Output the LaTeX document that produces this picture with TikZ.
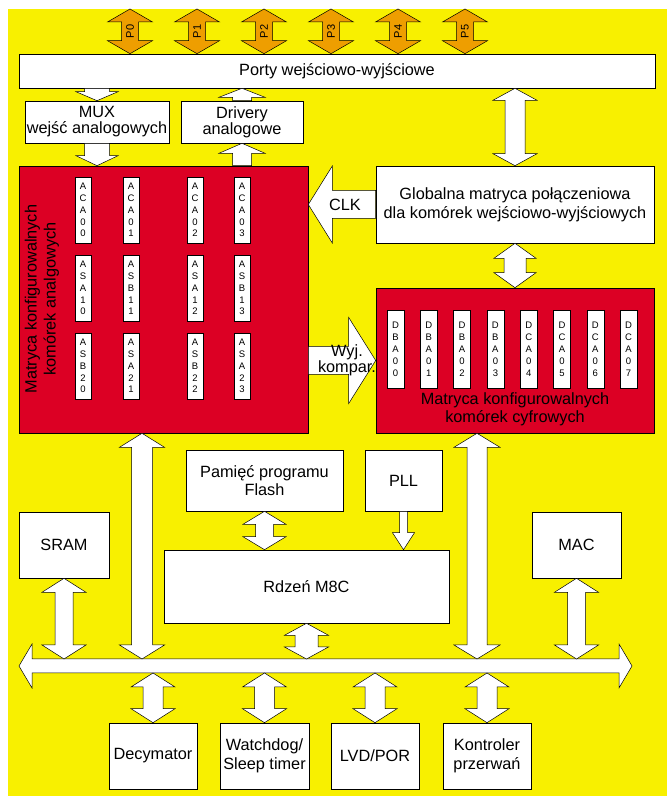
\documentclass[tikz,border=0pt]{standalone}
\usepackage{fontspec}
\setmainfont{Liberation Sans}
\usepackage{tikz}
\usetikzlibrary{calc}
\definecolor{chipyellow}{RGB}{248,240,0}
\definecolor{chipred}{RGB}{220,0,36}
\definecolor{portorange}{RGB}{238,158,0}

\tikzset{
  head w/.store in=\arrhw, shaft w/.store in=\arrsw, head l/.store in=\arrhl,
  head w=22pt, shaft w=10pt, head l=14pt
}
% fat double arrow, vertical (top point, bottom point)
\newcommand{\fatvv}[3][]{%
  \filldraw[fatarrow,#1] let \p1=#2, \p2=#3 in
    (\x1,\y1) -- (\x1+\arrhw,\y1-\arrhl) -- (\x1+\arrsw,\y1-\arrhl)
    -- (\x1+\arrsw,\y2+\arrhl) -- (\x1+\arrhw,\y2+\arrhl) -- (\x1,\y2)
    -- (\x1-\arrhw,\y2+\arrhl) -- (\x1-\arrsw,\y2+\arrhl)
    -- (\x1-\arrsw,\y1-\arrhl) -- (\x1-\arrhw,\y1-\arrhl) -- cycle;}
% fat double arrow, horizontal (left point, right point)
\newcommand{\fathh}[3][]{%
  \filldraw[fatarrow,#1] let \p1=#2, \p2=#3 in
    (\x1,\y1) -- (\x1+\arrhl,\y1+\arrhw) -- (\x1+\arrhl,\y1+\arrsw)
    -- (\x2-\arrhl,\y1+\arrsw) -- (\x2-\arrhl,\y1+\arrhw) -- (\x2,\y1)
    -- (\x2-\arrhl,\y1-\arrhw) -- (\x2-\arrhl,\y1-\arrsw)
    -- (\x1+\arrhl,\y1-\arrsw) -- (\x1+\arrhl,\y1-\arrhw) -- cycle;}
% fat single arrow, vertical (from, to)
\newcommand{\fatv}[3][]{%
  \filldraw[fatarrow,#1] let \p1=#2, \p2=#3, \n1={(\y1-\y2)/abs(\y1-\y2)} in
    (\x1-\arrsw,\y1) -- (\x1+\arrsw,\y1) -- (\x1+\arrsw,\y2+\n1*\arrhl)
    -- (\x1+\arrhw,\y2+\n1*\arrhl) -- (\x1,\y2) -- (\x1-\arrhw,\y2+\n1*\arrhl)
    -- (\x1-\arrsw,\y2+\n1*\arrhl) -- cycle;}
% fat single arrow, horizontal (from, to)
\newcommand{\fath}[3][]{%
  \filldraw[fatarrow,#1] let \p1=#2, \p2=#3, \n1={(\x1-\x2)/abs(\x1-\x2)} in
    (\x1,\y1-\arrsw) -- (\x1,\y1+\arrsw) -- (\x2+\n1*\arrhl,\y1+\arrsw)
    -- (\x2+\n1*\arrhl,\y1+\arrhw) -- (\x2,\y1) -- (\x2+\n1*\arrhl,\y1-\arrhw)
    -- (\x2+\n1*\arrhl,\y1-\arrsw) -- cycle;}

\begin{document}
\begin{tikzpicture}[
    x=1pt, y=1pt,
    line width=0.6pt,
    box/.style={draw, fill=white, inner sep=1pt, align=center,
      font=\fontsize{16.3}{19}\selectfont},
    redbox/.style={draw, fill=chipred, inner sep=0pt},
    cell/.style={draw, fill=white, inner sep=0pt, minimum width=16, minimum height=66,
      align=center, font=\fontsize{9.5}{11.8}\selectfont},
    fatarrow/.style={draw=black, fill=white, line width=0.5pt, line join=miter},
    plbl/.style={rotate=90, inner sep=0pt, font=\fontsize{11}{11}\selectfont},
    albl/.style={inner sep=0pt, align=center, font=\fontsize{16.3}{15}\selectfont}
]
  \useasboundingbox (0,0) rectangle (667,796);
  \fill[chipyellow] (8,0) rectangle (667,787);

  % ports
  \node[box, minimum width=636, minimum height=34] (ports) at (337,725) {Porty wejściowo-wyjściowe};
  \foreach \i/\x in {0/130,1/197,2/264,3/331,4/398,5/465}{
    \coordinate (ptop\i) at (\x,787);
    \fatvv[fill=portorange, head w=22.5pt, shaft w=8.5pt, head l=13pt]{(ptop\i)}{(ptop\i |- ports.north)}
    \node[plbl] (p\i) at ($(ptop\i)!0.5!(ptop\i |- ports.north)$) {P\i};
  }

  % analog part
  \node[box, minimum width=144, minimum height=42, font=\fontsize{16.3}{16}\selectfont] (mux) at (97,674) {MUX\\wejść analogowych};
  \node[box, minimum width=122, minimum height=42, font=\fontsize{16.3}{16}\selectfont] (drv) at (242,674) {Drivery\\analogowe};
  \node[redbox, minimum width=289, minimum height=267] (analog) at (163.5,496.5) {};
  \node[albl, rotate=90, font=\fontsize{16.3}{19}\selectfont] (analbl) at (42,497) {Matryca konfigurowalnych\\komórek analgowych};
  \foreach \c/\x/\secnd/\thrd in {0/83/A/B,1/131/B/A,2/195/A/B,3/242/B/A}{
    \node[cell] (aca\c) at (\x,586) {A\\C\\A\\0\\\c};
    \node[cell] (as1\c) at (\x,508) {A\\S\\\secnd\\1\\\c};
    \node[cell] (as2\c) at (\x,430) {A\\S\\\thrd\\2\\\c};
  }

  % digital part
  \node[box, minimum width=278, minimum height=77] (global) at (515,591.5) {Globalna matryca połączeniowa\\dla komórek wejściowo-wyjściowych};
  \node[redbox, minimum width=278, minimum height=145] (digital) at (515,435.5) {};
  \foreach \i/\t in {0/B,1/B,2/B,3/B,4/C,5/C,6/C,7/C}
    \node[cell, minimum width=17, minimum height=78, font=\fontsize{9.5}{12}\selectfont] (dcell\i) at ({395.5+33.3*\i},447) {D\\\t\\A\\0\\\i};
  \node[albl, font=\fontsize{16.3}{18}\selectfont] (diglbl) at (515,387) {Matryca konfigurowalnych\\komórek cyfrowych};

  % core part
  \node[box, minimum width=157, minimum height=61, font=\fontsize{16.3}{18}\selectfont] (flash) at (264.5,315.5) {Pamięć programu\\Flash};
  \node[box, minimum width=77, minimum height=61] (pll) at (403.5,315.5) {PLL};
  \node[box, minimum width=90, minimum height=66] (sram) at (64,251) {SRAM};
  \node[box, minimum width=89, minimum height=66] (mac) at (576.5,251) {MAC};
  \node[box, minimum width=285, minimum height=73] (core) at (306.5,209.5) {Rdzeń M8C};

  % peripherals
  \node[box, minimum width=88, minimum height=66] (decym) at (153,40) {Decymator};
  \node[box, minimum width=89, minimum height=66] (wdt) at (264.5,40) {Watchdog/\\Sleep timer};
  \node[box, minimum width=88, minimum height=66] (lvd) at (375,40) {LVD/POR};
  \node[box, minimum width=88, minimum height=66] (irq) at (487,40) {Kontroler\\przerwań};

  % bus
  \coordinate (busL) at (19,130);
  \coordinate (busR) at (632,130);
  \coordinate (busT) at (0,137);
  \coordinate (busB) at (0,123);
  \fathh[head w=22pt, shaft w=7pt, head l=13pt]{(busL)}{(busR)}

  % arrows
  \fatvv[head l=12pt]{(ports.south -| global)}{(global.north)}
  \fatvv[head w=21pt, shaft w=11pt, head l=15pt]{(global.south)}{(digital.north)}
  \fatv[head w=21pt, shaft w=12.5pt, head l=9pt]{(ports.south -| mux)}{(mux.north)}
  \fatv[head w=21pt, shaft w=12.5pt, head l=10pt]{(mux.south)}{(mux.south |- analog.north)}
  \fatv[head w=23pt, shaft w=9.5pt, head l=10pt]{(drv.south |- analog.north)}{(drv.south)}
  \fatv[head w=23pt, shaft w=9.5pt, head l=9pt]{(drv.north)}{(drv.north |- ports.south)}
  \fath[head w=38.5pt, shaft w=14pt, head l=24pt]{(global.west)}{(global.west -| analog.east)}
  \node[albl] (clk) at ($(global.west -| analog.east)!0.5!(global.west)+(3,0)$) {CLK};
  \fath[head w=43pt, shaft w=14pt, head l=27pt]{(digital.west -| analog.east)}{(digital.west)}
  \node[albl] (cmp) at ($(digital.west -| analog.east)!0.5!(digital.west)+(5,0)$) {Wyj.\\kompar.};

  \fatvv[head w=22.5pt, shaft w=10.5pt]{(142,0 |- analog.south)}{(142,0 |- busT)}
  \fatvv[head w=23pt]{(477,0 |- digital.south)}{(477,0 |- busT)}
  \fatvv[shaft w=9pt]{(sram.south)}{(sram.south |- busT)}
  \fatvv[shaft w=9pt]{(mac.south)}{(mac.south |- busT)}
  \fatvv[head w=21.5pt, shaft w=9pt, head l=13pt]{(flash.south)}{(flash.south |- core.north)}
  \fatv[head w=11pt, shaft w=4pt, head l=17pt]{(pll.south)}{(pll.south |- core.north)}
  \fatvv[shaft w=11.5pt, head l=12pt]{(core.south)}{(core.south |- busT)}
  \foreach \blk in {decym,wdt,lvd,irq}{
    \fatvv[head l=14pt]{(\blk.north |- busB)}{(\blk.north)}
  }
\end{tikzpicture}
\end{document}
